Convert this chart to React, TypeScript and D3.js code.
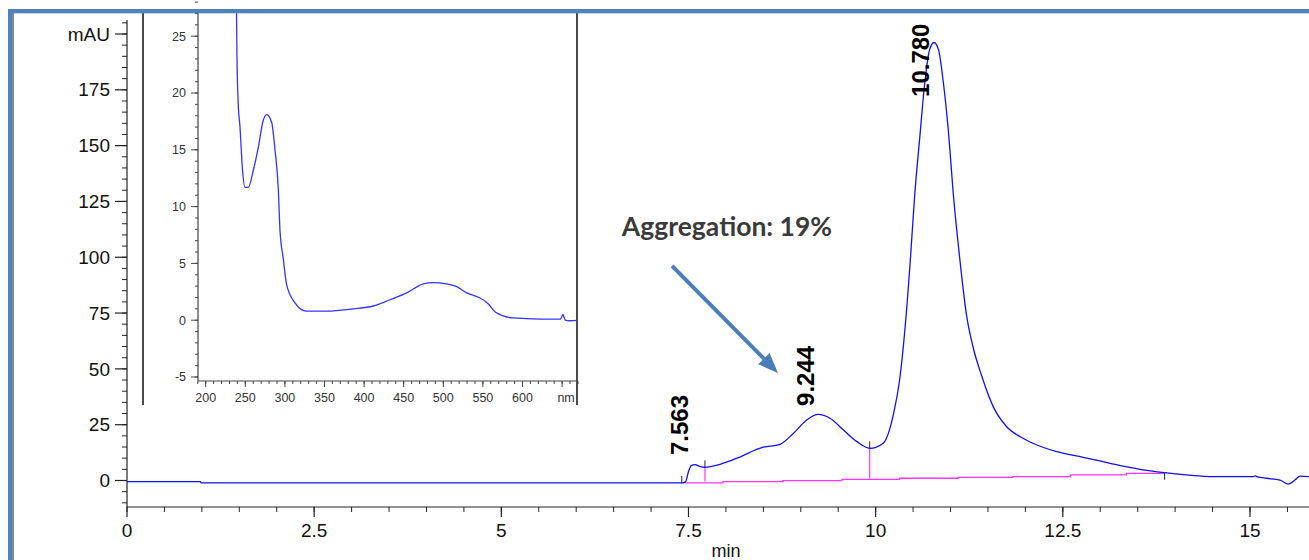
import React from 'react'
import * as d3 from 'd3'

// main chromatogram (min, mAU)
const times = [0, 0.98, 0.99, 7.41, 7.46, 7.5, 7.54, 7.59, 7.65, 7.72, 7.88, 8.14, 8.5, 8.72, 8.9, 9.08, 9.23, 9.39, 9.57, 9.75, 9.92, 10.1, 10.24, 10.32, 10.39, 10.46, 10.52, 10.59, 10.66, 10.72, 10.78, 10.84, 10.9, 10.97, 11.04, 11.13, 11.21, 11.3, 11.42, 11.57, 11.75, 11.93, 12.1, 12.42, 12.77, 13.13, 13.53, 13.86, 14.15, 14.51, 15.04, 15.07, 15.1, 15.22, 15.4, 15.51, 15.6, 15.67, 15.79]
const mau = [-0.5, -0.5, -1.1, -1.1, -0.6, 4.0, 6.8, 7.1, 6.3, 5.9, 6.9, 9.9, 14.9, 16.2, 21.1, 27.1, 29.6, 27.9, 22.6, 17.4, 14.4, 16.7, 30.1, 45, 67.4, 97.3, 127.2, 154, 179.4, 192.9, 196.2, 192.9, 179.4, 157, 127.2, 97.3, 74.9, 59.9, 46.5, 33.1, 24.1, 19.6, 16.7, 12.9, 10.4, 7.7, 5.0, 3.5, 2.5, 1.7, 1.7, 2.1, 1.6, 1.0, 0.2, -1.6, 0.2, 2.0, 1.7]

// integration baseline
const baseTimes = [7.45, 7.96, 8.76, 9.55, 10.32, 11.1, 11.83, 12.6, 13.35, 13.86]
const baseMau = [-1.1, -0.5, -0.1, 0.5, 1.0, 1.4, 1.7, 2.5, 3.2, 3.2]

// drop lines: time, baseline value, curve value
const dropTimes = [7.72, 9.92]
const dropBase = [-0.5, 0.9]
const dropCurve = [5.9, 14.4]
// start / end ticks
const tickTimes = [7.41, 13.86]
const tickMau = [-1.1, 3.5]

const peakLabels = ['7.563', '9.244', '10.780']
const peakTimes = [7.563, 9.244, 10.78]
const labelMau = [11.4, 33.4, 171.8]

// inset UV spectrum (nm, mAU)
const nm = [238.5, 239.5, 241, 243.3, 246.7, 249.6, 253.8, 260.1, 266.4, 272.7, 277, 283.3, 287.5, 291.7, 293.8, 298, 302, 312, 327.5, 352.8, 386, 411.6, 432.7, 453.8, 474.8, 487, 504, 517, 529.5, 545, 556, 566, 588, 622, 648, 651, 654, 660, 670]
const absorb = [30, 23.2, 19.1, 17, 13, 11.7, 11.7, 13.2, 15.2, 17.6, 18.1, 17.4, 15, 11.5, 7.9, 5.4, 3.2, 1.6, 0.8, 0.8, 1.0, 1.25, 1.8, 2.4, 3.2, 3.3, 3.2, 2.95, 2.4, 2.0, 1.5, 0.7, 0.2, 0.1, 0.1, 0.5, 0.0, -0.05, 0.0]

const yTickValues = [0, 25, 50, 75, 100, 125, 150, 175]
const xTickValues = [0, 2.5, 5, 7.5, 10, 12.5, 15]
const xTickLabels = ['0', '2.5', '5', '7.5', '10', '12.5', '15']
const insetXTicks = [200, 250, 300, 350, 400, 450, 500, 550, 600]
const insetYTicks = [-5, 0, 5, 10, 15, 20, 25]

const W = 1309
const H = 560

const App = () => {
    const x = d3.scaleLinear().domain([0, 15]).range([127, 1250])
    const y = d3.scaleLinear().domain([0, 200]).range([480.5, 34])

    const ix = d3.scaleLinear().domain([200, 600]).range([205.7, 522.5])
    const iy = d3.scaleLinear().domain([-5, 25]).range([377, 36.2])

    const mainLine = d3.line<number>()
        .x(i => x(times[i]))
        .y(i => y(mau[i]))
        .curve(d3.curveMonotoneX)
    const baseLine = d3.line<number>()
        .x(i => x(baseTimes[i]))
        .y(i => y(baseMau[i]))
        .curve(d3.curveStepAfter)
    const specLine = d3.line<number>()
        .x(i => ix(nm[i]))
        .y(i => iy(absorb[i]))
        .curve(d3.curveMonotoneX)

    const yMinor = d3.range(-10, 206, 5)
    const xMinor = d3.range(0, 15.8, 0.5)
    const iyMinor = d3.range(-5, 29, 1)
    const ixMinor = d3.range(190, 671, 10)

    const axisY0 = 507
    const insetAxisY = 381
    const insetAxisX = 198

    // annotation arrow
    const a0 = [x(7.28), y(96.1)]
    const a1 = [x(8.695), y(48.2)]
    const ang = Math.atan2(a1[1] - a0[1], a1[0] - a0[0])
    const headL = 20, headW = 8
    const hb = [a1[0] - headL * Math.cos(ang), a1[1] - headL * Math.sin(ang)]
    const head = [
        a1,
        [hb[0] + headW * Math.sin(ang), hb[1] - headW * Math.cos(ang)],
        [hb[0] - headW * Math.sin(ang), hb[1] + headW * Math.cos(ang)],
    ]

    const font = 'Arial, "Liberation Sans", sans-serif'

    return (
        <svg width={W} height={H} style={{position: 'absolute', left: 0, top: 0, background: '#fff'}}>
            <defs>
                <clipPath id="insetClip">
                    <rect x={insetAxisX} y={13} width={577 - insetAxisX} height={insetAxisY - 13} />
                </clipPath>
            </defs>
            <rect x={0} y={0} width={W} height={H} fill="#fff" />

            {/* main y axis */}
            <line x1={127} x2={127} y1={20} y2={axisY0} stroke="#222" strokeWidth={1.2} />
            {yMinor.map(v => (
                <line key={'ym' + v} x1={122} x2={127} y1={y(v)} y2={y(v)} stroke="#222" strokeWidth={1} />
            ))}
            {yTickValues.concat([200]).map(v => (
                <line key={'yM' + v} x1={115} x2={127} y1={y(v)} y2={y(v)} stroke="#222" strokeWidth={1.2} />
            ))}
            {yTickValues.map(v => (
                <text key={'yl' + v} x={110} y={y(v)} dy="0.35em" textAnchor="end" fontFamily={font} fontSize={19} fill="#111">{v}</text>
            ))}
            <text x={110} y={y(200)} dy="0.35em" textAnchor="end" fontFamily={font} fontSize={19} fill="#111">mAU</text>

            {/* main x axis */}
            <line x1={127} x2={W} y1={axisY0} y2={axisY0} stroke="#222" strokeWidth={1.2} />
            {xMinor.map(v => (
                <line key={'xm' + v} x1={x(v)} x2={x(v)} y1={axisY0} y2={axisY0 + 5} stroke="#222" strokeWidth={1} />
            ))}
            {xTickValues.map((v, i) => (
                <g key={'xM' + v}>
                    <line x1={x(v)} x2={x(v)} y1={axisY0} y2={axisY0 + 10} stroke="#222" strokeWidth={1.2} />
                    <text x={x(v)} y={537} textAnchor="middle" fontFamily={font} fontSize={19} fill="#111">{xTickLabels[i]}</text>
                </g>
            ))}
            <text x={726} y={557} textAnchor="middle" fontFamily={font} fontSize={18} fill="#111">min</text>

            {/* integration baseline and drop lines */}
            <path d={baseLine(d3.range(baseTimes.length)) || ''} fill="none" stroke="#ff33ff" strokeWidth={1.3} />
            {dropTimes.map((t, i) => (
                <g key={'d' + t}>
                    <line x1={x(t)} x2={x(t)} y1={y(dropBase[i])} y2={y(dropCurve[i])} stroke="#ff33ff" strokeWidth={1.2} />
                    <line x1={x(t)} x2={x(t)} y1={y(dropCurve[i])} y2={y(dropCurve[i]) - 7} stroke="#222" strokeWidth={1} />
                </g>
            ))}
            <line x1={x(tickTimes[0])} x2={x(tickTimes[0])} y1={y(tickMau[0])} y2={y(tickMau[0]) - 7} stroke="#222" strokeWidth={1} />
            <line x1={x(tickTimes[1])} x2={x(tickTimes[1])} y1={y(tickMau[1])} y2={y(tickMau[1]) + 7} stroke="#222" strokeWidth={1} />

            {/* chromatogram */}
            <path d={mainLine(d3.range(times.length)) || ''} fill="none" stroke="#1010f0" strokeWidth={1.3} />

            {/* peak labels */}
            {peakLabels.map((s, i) => {
                const px = x(peakTimes[i]) - 5
                const py = y(labelMau[i])
                return (
                    <text key={s} transform={`translate(${px},${py}) rotate(-90)`} fontFamily={font} fontWeight="bold" fontSize={24} fill="#000">{s}</text>
                )
            })}

            {/* annotation */}
            <text x={x(6.61)} y={y(109.4)} fontFamily='Lato, "Open Sans", sans-serif' fontWeight="bold" fontSize={26.5} fill="#3a3a3a">Aggregation: 19%</text>
            <line x1={a0[0]} y1={a0[1]} x2={hb[0]} y2={hb[1]} stroke="#4a7ebb" strokeWidth={4} />
            <polygon points={head.map(p => p.join(',')).join(' ')} fill="#4a7ebb" />

            {/* inset spectrum */}
            <rect x={143} y={13} width={577 - 143} height={405 - 13} fill="#fff" />
            <line x1={143} x2={143} y1={13} y2={405} stroke="#111" strokeWidth={1.5} />
            <line x1={577} x2={577} y1={13} y2={405} stroke="#111" strokeWidth={1.5} />
            <line x1={insetAxisX} x2={insetAxisX} y1={13} y2={insetAxisY} stroke="#444" strokeWidth={1.2} />
            {iyMinor.map(v => (
                <line key={'iym' + v} x1={insetAxisX - 3} x2={insetAxisX} y1={iy(v)} y2={iy(v)} stroke="#444" strokeWidth={1} />
            ))}
            {insetYTicks.map(v => (
                <g key={'iyM' + v}>
                    <line x1={insetAxisX - 7} x2={insetAxisX} y1={iy(v)} y2={iy(v)} stroke="#444" strokeWidth={1} />
                    <text x={186} y={iy(v)} dy="0.35em" textAnchor="end" fontFamily={font} fontSize={12.5} fill="#333">{v}</text>
                </g>
            ))}
            <line x1={insetAxisX} x2={577} y1={insetAxisY} y2={insetAxisY} stroke="#444" strokeWidth={1.2} />
            {ixMinor.map(v => (
                <line key={'ixm' + v} x1={ix(v)} x2={ix(v)} y1={insetAxisY} y2={insetAxisY + 3} stroke="#444" strokeWidth={1} />
            ))}
            {insetXTicks.concat([650]).map(v => (
                <line key={'ixM' + v} x1={ix(v)} x2={ix(v)} y1={insetAxisY} y2={insetAxisY + 6} stroke="#444" strokeWidth={1} />
            ))}
            {insetXTicks.map(v => (
                <text key={'ixl' + v} x={ix(v)} y={401.5} textAnchor="middle" fontFamily={font} fontSize={12.5} fill="#333">{v}</text>
            ))}
            <text x={ix(650) + 4} y={401.5} textAnchor="middle" fontFamily={font} fontSize={12.5} fill="#333">nm</text>
            <path d={specLine(d3.range(nm.length)) || ''} clipPath="url(#insetClip)" fill="none" stroke="#3333ff" strokeWidth={1.3} />

            {/* frame */}
            <rect x={8} y={9} width={W} height={4.3} fill="#4f81bd" />
            <rect x={8} y={9} width={4.7} height={H} fill="#4f81bd" />
            <line x1={13.2} x2={13.2} y1={13} y2={H} stroke="#555" strokeWidth={1} />
        </svg>
    )
}

export default App
